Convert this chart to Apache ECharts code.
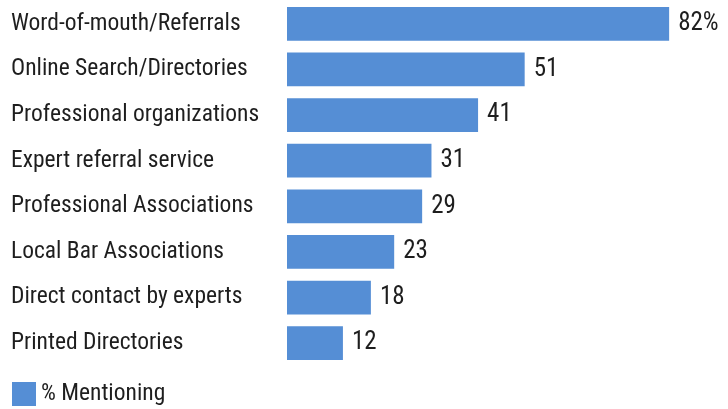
<!DOCTYPE html>
<html>
<head>
<meta charset="utf-8">
<script src="https://cdn.jsdelivr.net/npm/echarts@6/dist/echarts.min.js"></script>
<style>
  html, body { margin: 0; padding: 0; background: #ffffff; }
  #chart { width: 728px; height: 409px; }
</style>
</head>
<body>
<div id="chart"></div>
<script>
// Sources mentioned, top to bottom
const categories = [
  'Word-of-mouth/Referrals',
  'Online Search/Directories',
  'Professional organizations',
  'Expert referral service',
  'Professional Associations',
  'Local Bar Associations',
  'Direct contact by experts',
  'Printed Directories'
];
// Share of respondents mentioning each source (%)
const mentioning = [82, 51, 41, 31, 29, 23, 18, 12];
const seriesName = '% Mentioning';

const FONT = '"Roboto Condensed", "Liberation Sans", sans-serif';
const TEXT = '#1e1e1e';

const chart = echarts.init(document.getElementById('chart'), null, { renderer: 'canvas' });
chart.setOption({
  animation: false,
  backgroundColor: '#ffffff',
  grid: { left: 287, top: 1, width: 410.1, height: 365, containLabel: false },
  xAxis: {
    type: 'value', min: 0, max: 88,
    show: false
  },
  yAxis: {
    type: 'category',
    data: categories,
    inverse: true,
    axisLine: { show: false },
    axisTick: { show: false },
    axisLabel: {
      align: 'left',
      margin: 276,
      color: TEXT,
      fontFamily: FONT,
      fontSize: 23.5
    }
  },
  legend: {
    left: 7, top: 377,
    itemWidth: 24, itemHeight: 24,
    icon: 'rect',
    itemGap: 10,
    textStyle: { color: TEXT, fontFamily: FONT, fontSize: 23.5 },
    data: [seriesName]
  },
  series: [{
    name: seriesName,
    type: 'bar',
    data: mentioning,
    barCategoryGap: '26%',
    itemStyle: { color: '#558ed5' },
    label: {
      show: true,
      position: 'right',
      distance: 9,
      color: TEXT,
      fontFamily: FONT,
      fontSize: 25,
      formatter: p => p.dataIndex === 0 ? p.value + '%' : String(p.value)
    }
  }]
});
</script>
</body>
</html>
